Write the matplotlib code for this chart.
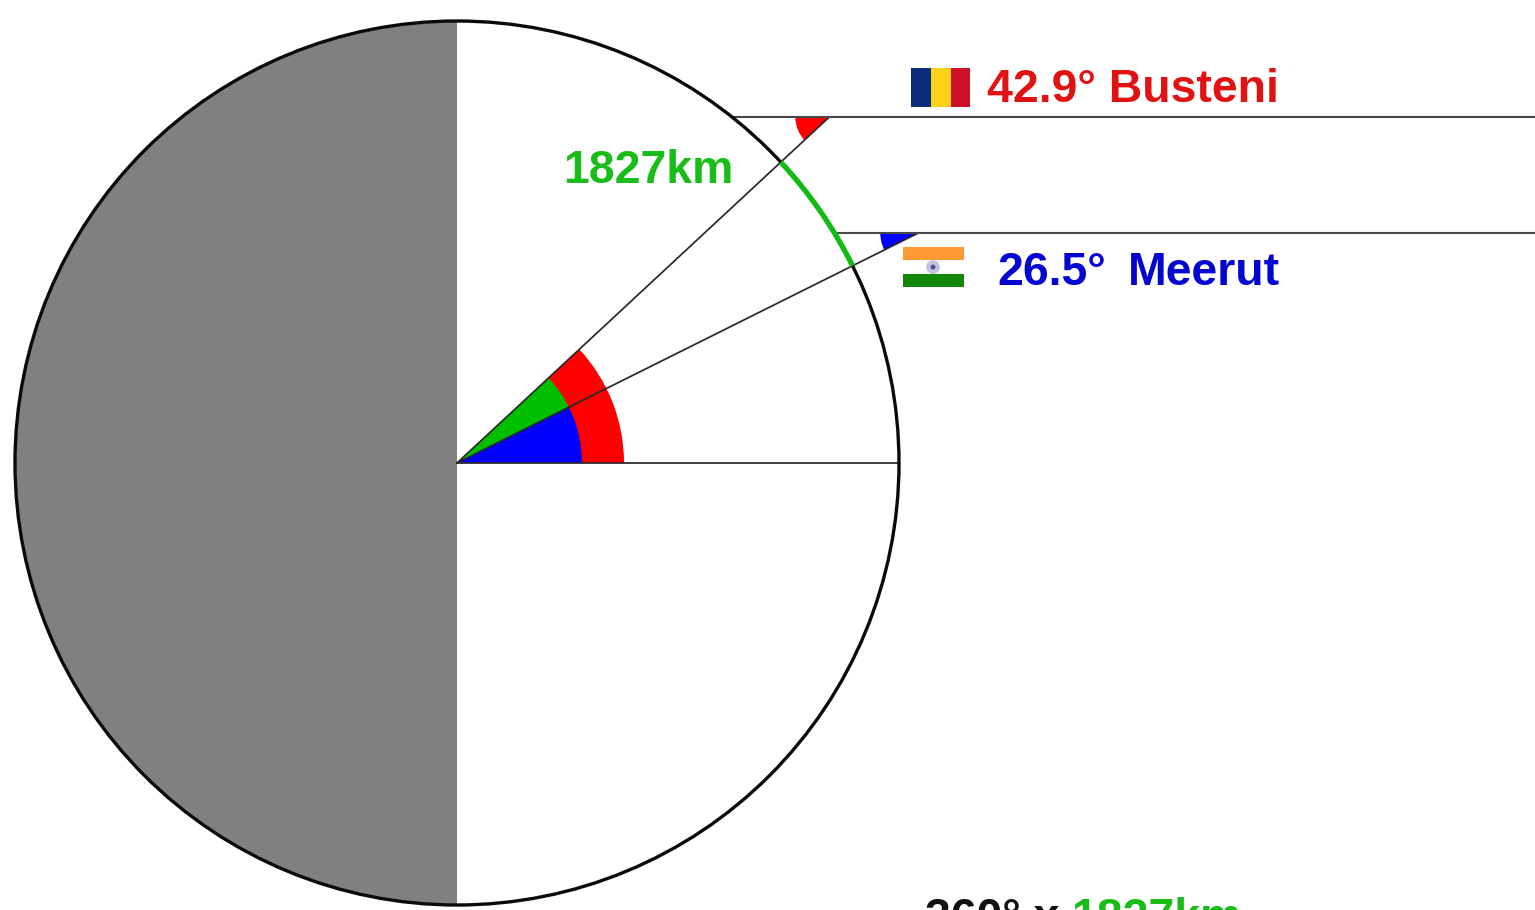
import numpy as np
import matplotlib.pyplot as plt
from matplotlib.patches import Circle, Wedge, Rectangle, Arc

# latitudes des deux villes, rayon et hauteur des horizontales en pixels
lats = [42.9, 26.5]
heights = [346, 230]
small_radii = [34, 38]
radius = 442
label_busteni = "42.9° Busteni"
label_meerut_deg = "26.5°"
label_meerut = "Meerut"
label_dist = "1827km"
label_bottom = ["360° x ", "1827km"]

RED = "#ff0000"
GREEN = "#00bf00"
BLUE = "#0000ff"
TXT_RED = "#e01212"
TXT_GREEN = "#18bd18"
TXT_BLUE = "#0505d2"
LINE = "#282828"

plt.rcParams['font.family'] = ['Liberation Sans', 'DejaVu Sans']

fig = plt.figure(figsize=(15.35, 9.1), dpi=100)
ax = fig.add_axes([0, 0, 1, 1])
# origine au centre du cercle
ax.set_xlim(-457, 1078)
ax.set_ylim(-447, 463)
ax.axis("off")

# hemisphere sombre
ax.add_patch(Wedge((0, 0), radius, 90, 270, fc="#808080", ec="none", zorder=1))

# angles au centre
ax.add_patch(Wedge((0, 0), 167, 0, lats[0], fc=RED, ec="none", zorder=2))
ax.add_patch(Wedge((0, 0), 125, 0, lats[1], fc=BLUE, ec="none", zorder=3))
ax.add_patch(Wedge((0, 0), 125, lats[1], lats[0], fc=GREEN, ec="none", zorder=3))

# rayons prolonges jusqu'aux horizontales
for lat, y_h, r_small, col in zip(lats, heights, small_radii, [RED, BLUE]):
    x_tip = y_h / np.tan(np.radians(lat))
    x_circle = np.sqrt(radius**2 - y_h**2)
    ax.plot([0, x_tip], [0, y_h], color=LINE, lw=1.25, zorder=5)
    ax.plot([x_circle, 1078], [y_h, y_h], color="#484848", lw=1.5, zorder=5)
    ax.add_patch(Wedge((x_tip, y_h), r_small, 180, 180 + lat, fc=col, ec="none", zorder=4))

ax.plot([0, radius], [0, 0], color=LINE, lw=1.25, zorder=5)

# cercle + arc vert
ax.add_patch(Circle((0, 0), radius, fc="none", ec="#0a0a0a", lw=2.4, zorder=6))
ax.add_patch(Arc((0, 0), 2 * radius, 2 * radius, theta1=lats[1], theta2=lats[0],
                 ec="#12bb12", lw=3.8, zorder=7))

# drapeau roumain
for x0, w, c in [(454, 20, "#0a2a7a"), (474, 20, "#fcd116"), (494, 19, "#ce1126")]:
    ax.add_patch(Rectangle((x0, 356), w, 39, fc=c, ec="none", zorder=3))

# drapeau indien
ax.add_patch(Rectangle((446, 203), 61, 13, fc="#ff9933", ec="none", zorder=3))
ax.add_patch(Rectangle((446, 176), 61, 13, fc="#138808", ec="none", zorder=3))
ax.add_patch(Circle((476, 196), 7, fc="#c4c4dc", ec="none", zorder=4))
ax.add_patch(Circle((476, 196), 2.5, fc="#50509a", ec="none", zorder=5))

txt = dict(fontweight="bold", fontsize=33.4, va="baseline", ha="left", zorder=8)
ax.text(530, 361, label_busteni, color=TXT_RED, **txt)
ax.text(540, 178, label_meerut_deg, color=TXT_BLUE, **txt)
ax.text(671, 178, label_meerut, color=TXT_BLUE, **txt)
ax.text(106, 280, label_dist, color=TXT_GREEN, **txt)
# coupe par le bas de l'image, comme sur l'original
ax.text(468, -468, label_bottom[0], color="#111111", **txt)
ax.text(614, -468, label_bottom[1], color=TXT_GREEN, **txt)

fig.savefig("out.png", dpi=100, facecolor="white")
